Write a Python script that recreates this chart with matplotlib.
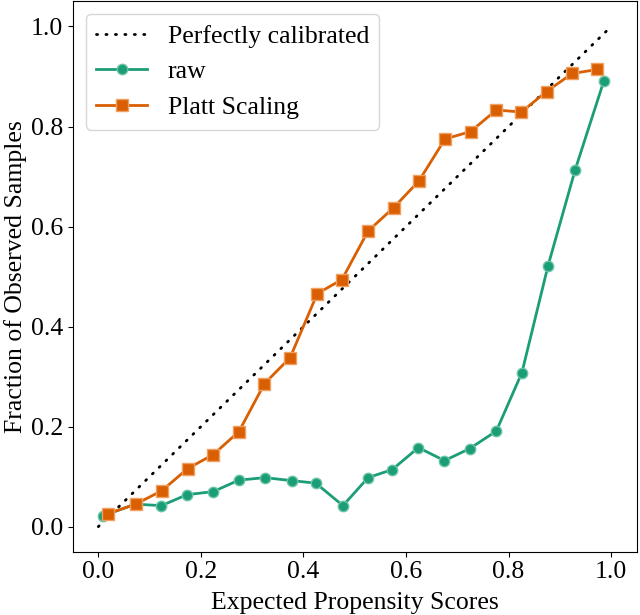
import matplotlib
matplotlib.use("Agg")
import matplotlib.pyplot as plt

plt.rcParams['font.family'] = ['Liberation Serif', 'DejaVu Serif']

# mean predicted probability per bin / fraction of positives
raw_x = [0.010, 0.072, 0.123, 0.173, 0.224, 0.274, 0.325, 0.377, 0.424, 0.477,
         0.526, 0.573, 0.624, 0.675, 0.724, 0.776, 0.826, 0.877, 0.930, 0.986]
raw_y = [0.022, 0.045, 0.042, 0.064, 0.070, 0.093, 0.098, 0.092, 0.087, 0.042,
         0.098, 0.114, 0.158, 0.132, 0.156, 0.191, 0.308, 0.522, 0.714, 0.892]

platt_x = [0.019, 0.073, 0.124, 0.174, 0.224, 0.274, 0.324, 0.374, 0.427, 0.475,
           0.526, 0.576, 0.625, 0.676, 0.726, 0.776, 0.825, 0.874, 0.924, 0.973]
platt_y = [0.026, 0.045, 0.072, 0.116, 0.144, 0.190, 0.286, 0.338, 0.466, 0.494,
           0.591, 0.638, 0.691, 0.775, 0.790, 0.833, 0.829, 0.870, 0.906, 0.914]

green = '#1b9e77'
orange = '#d95f02'

fig, ax = plt.subplots(figsize=(6.4, 6.15), dpi=100)
fig.subplots_adjust(left=0.1136, right=0.995, top=0.9976, bottom=0.103)

ax.plot([0, 1], [0, 1], color='black', linestyle=(0, (0.4, 3.0)), lw=2,
        dash_capstyle='round', label='Perfectly calibrated')
ax.plot(raw_x, raw_y, color=green, lw=2, marker='o', markersize=7.5,
        markerfacecolor=green, markeredgecolor='#6cc4a6', markeredgewidth=1,
        label='raw')
ax.plot(platt_x, platt_y, color=orange, lw=2, marker='s', markersize=8.5,
        markerfacecolor=orange, markeredgecolor='#f0a060', markeredgewidth=1,
        label='Platt Scaling')

ax.set_xlim(-0.05, 1.05)
ax.set_ylim(-0.05, 1.05)
ax.set_xticks([0.0, 0.2, 0.4, 0.6, 0.8, 1.0])
ax.set_yticks([0.0, 0.2, 0.4, 0.6, 0.8, 1.0])
ax.tick_params(labelsize=18.5)
ax.set_xlabel('Expected Propensity Scores', fontsize=18.5, labelpad=6.5)
ax.set_ylabel('Fraction of Observed Samples', fontsize=18.5, labelpad=3)
ax.legend(loc='upper left', fontsize=18.5, borderaxespad=0.5)

fig.savefig('out.png', dpi=100)
